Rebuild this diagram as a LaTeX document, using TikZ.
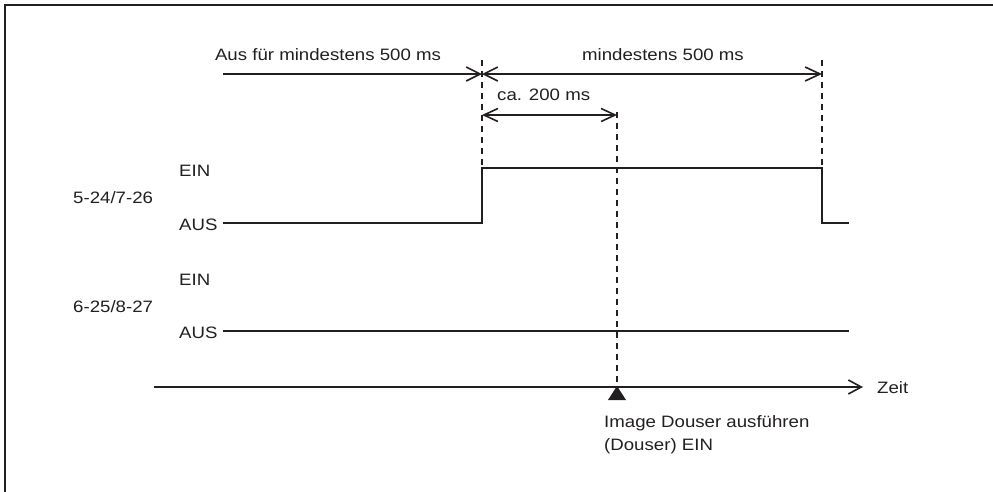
\documentclass[tikz,border=0pt]{standalone}
\usepackage{fontspec}
\setmainfont{Liberation Sans}[FakeStretch=1.13]
\usetikzlibrary{arrows.meta}
\definecolor{ink}{HTML}{231F20}
\tikzset{
  sig/.style={draw=ink, line width=1.6pt},
  guide/.style={draw=ink, line width=1.3pt, dash pattern=on 6pt off 5pt},
  barb/.style={Straight Barb[length=14pt, width=14pt]},
  lbl/.style={anchor=base west, inner sep=0pt, text=ink, font=\fontsize{16.5}{20}\selectfont},
  lblc/.style={lbl, anchor=base},
  frameline/.style={draw=ink, line width=2.4pt}
}
\begin{document}
\begin{tikzpicture}[x=1pt, y=-1pt]
\useasboundingbox (0,0) rectangle (993,491);
% frame
\draw[frameline] (1000,5) -- (5,5) -- (5,500);

% key coordinates
\coordinate (aS) at (223,74);
\coordinate (aX) at (482,74);
\coordinate (aE) at (822,74);
\coordinate (cL) at (482,115);
\coordinate (cR) at (617,115);
\coordinate (t1) at (482,60);
\coordinate (t2) at (822,60);
\coordinate (h1) at (482,168);
\coordinate (h2) at (822,168);
\coordinate (dT) at (617,112);
\coordinate (tri) at (617,386);
\coordinate (ax0) at (154,387);
\coordinate (ax1) at (863,387);

% top labels
\node[lblc] (lAus) at (328,60) {Aus für mindestens 500 ms};
\node[lblc] (lMin) at (663,60) {mindestens 500 ms};
\node[lbl] (lCa) at (497,100) {ca. 200 ms};

% dimension arrows
\draw[sig, -{Straight Barb[length=14pt, width=14pt]}] (aS) -- (aX);
\draw[sig, {Straight Barb[length=14pt, width=14pt]}-{Straight Barb[length=15pt, width=14pt]}] (aX) -- (aE);
\draw[sig, {Straight Barb[length=14pt, width=13pt]}-{Straight Barb[length=14pt, width=13pt]}] (cL) -- (cR);

% dashed guides
\draw[guide] (t1) -- (h1);
\draw[guide] (t2) -- (h2);
\draw[guide] (dT) -- (tri);

% signal 1
\node[lbl] (e1) at (179,176) {EIN};
\node[lbl] (s1) at (73,203) {5-24/7-26};
\node[lbl] (a1) at (179,230) {AUS};
\coordinate (s1a) at (223,223);
\coordinate (s1b) at (482,223);
\coordinate (s1c) at (822,223);
\coordinate (s1d) at (849,223);
\draw[sig] (s1a) -- (s1b) -- (h1) -- (h2) -- (s1c) -- (s1d);

% signal 2
\node[lbl] (e2) at (179,285) {EIN};
\node[lbl] (s2) at (73,312) {6-25/8-27};
\node[lbl] (a2) at (179,338) {AUS};
\coordinate (s2a) at (223,331);
\coordinate (s2b) at (849,331);
\draw[sig] (s2a) -- (s2b);

% time axis
\draw[sig, -{Straight Barb[length=13pt, width=14pt]}] (ax0) -- (ax1);
\node[lbl] (zeit) at (877,393) {Zeit};

% marker triangle
\fill[ink] (tri) -- (626,400) -- (608,400) -- cycle;
\node[lbl] (img1) at (604,427) {Image Douser ausführen};
\node[lbl] (img2) at (604,450) {(Douser) EIN};
\end{tikzpicture}
\end{document}
